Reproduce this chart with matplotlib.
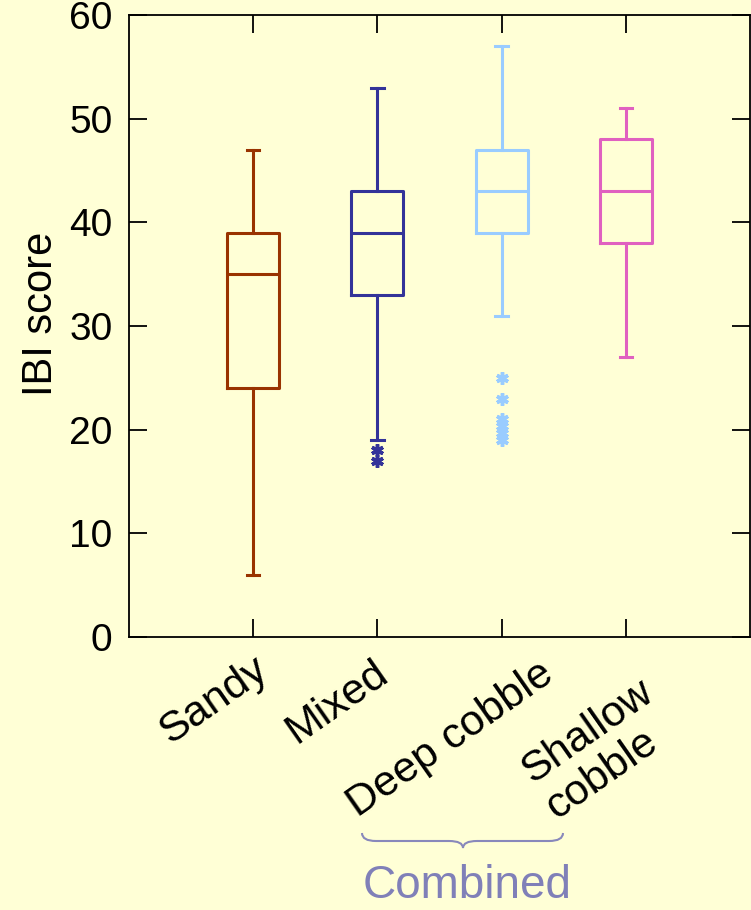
import matplotlib.pyplot as plt
from matplotlib.path import Path
from matplotlib.patches import PathPatch
from matplotlib.transforms import ScaledTranslation

plt.rcParams['font.family'] = ['Liberation Sans', 'DejaVu Sans']

categories = ['Sandy', 'Mixed', 'Deep cobble', 'Shallow\ncobble']
colors = ['#993300', '#333399', '#99CCFF', '#E060C0']
whislo = [6, 19, 31, 27]
q1 = [24, 33, 39, 38]
med = [35, 39, 43, 43]
q3 = [39, 43, 47, 48]
whishi = [47, 53, 57, 51]
fliers = [[], [18, 17], [25, 23, 21, 20.4, 19.7, 19], []]

bg = '#FFFFD6'
fig = plt.figure(figsize=(7.51, 9.10), dpi=100, facecolor=bg)
ax = fig.add_axes([129 / 751, 1 - 637 / 910, 621 / 751, 622 / 910])
ax.set_facecolor(bg)

stats = []
for i, name in enumerate(categories):
    stats.append(dict(label=name, whislo=whislo[i], q1=q1[i], med=med[i],
                      q3=q3[i], whishi=whishi[i], fliers=fliers[i]))

pos = [1, 2, 3, 4]
for i in range(4):
    c = colors[i]
    ax.bxp([stats[i]], positions=[pos[i]], widths=0.42, capwidths=0.1,
           boxprops=dict(color=c, lw=2.2), medianprops=dict(color=c, lw=2.2),
           whiskerprops=dict(color=c, lw=2.2), capprops=dict(color=c, lw=2.2),
           flierprops=dict(marker=(6, 2, 0), markeredgecolor=c, markerfacecolor=c,
                           markersize=9, markeredgewidth=2.5, linestyle='none'))

ax.set_xlim(0, 5)
ax.set_ylim(0, 60)
ax.set_yticks([0, 10, 20, 30, 40, 50, 60])
ax.set_xticks(pos)
ax.set_xticklabels(categories, rotation=35, ha='left', va='baseline',
                   rotation_mode='anchor', multialignment='left', fontsize=31,
                   linespacing=1.1)
ax.tick_params(axis='both', direction='in', length=13, width=1.3,
               top=True, right=True, colors='black')
ax.tick_params(axis='y', labelsize=28, pad=12)
ax.tick_params(axis='x', pad=0)
for s in ax.spines.values():
    s.set_linewidth(1.3)

ax.set_ylabel('IBI score', fontsize=30)
ax.yaxis.set_label_coords(-0.11, 0.519)

# per-label offsets in pixels from the tick (baseline start of last line)
offsets = [(-83, -108), (-81, -107), (-144, -181), (-71, -180)]
for lab, (dx, dy) in zip(ax.get_xticklabels(), offsets):
    lab.set_transform(lab.get_transform() +
                      ScaledTranslation(dx / 100, dy / 100, fig.dpi_scale_trans))

# brace under the two cobble categories
W, H = 751, 910
def fx(x): return x / W
def fy(y): return 1 - y / H
x0, x1, xm = 362, 563, 463
yt, yl, yb = 833, 841, 848
verts = [(x0, yt), (x0, yl), (x0 + 14, yl),
         (xm - 14, yl), (xm, yl), (xm, yb),
         (xm, yl), (xm + 14, yl),
         (x1 - 14, yl), (x1, yl), (x1, yt)]
codes = [Path.MOVETO, Path.CURVE3, Path.CURVE3,
         Path.LINETO, Path.CURVE3, Path.CURVE3,
         Path.CURVE3, Path.CURVE3,
         Path.LINETO, Path.CURVE3, Path.CURVE3]
path = Path([(fx(a), fy(b)) for a, b in verts], codes)
fig.add_artist(PathPatch(path, facecolor='none', edgecolor='#8888BB', lw=1.5,
                         transform=fig.transFigure))
fig.text(fx(467), fy(886), 'Combined', color='#8080B8', fontsize=33,
         ha='center', va='center')

fig.savefig('out.png', dpi=100, facecolor=bg)
